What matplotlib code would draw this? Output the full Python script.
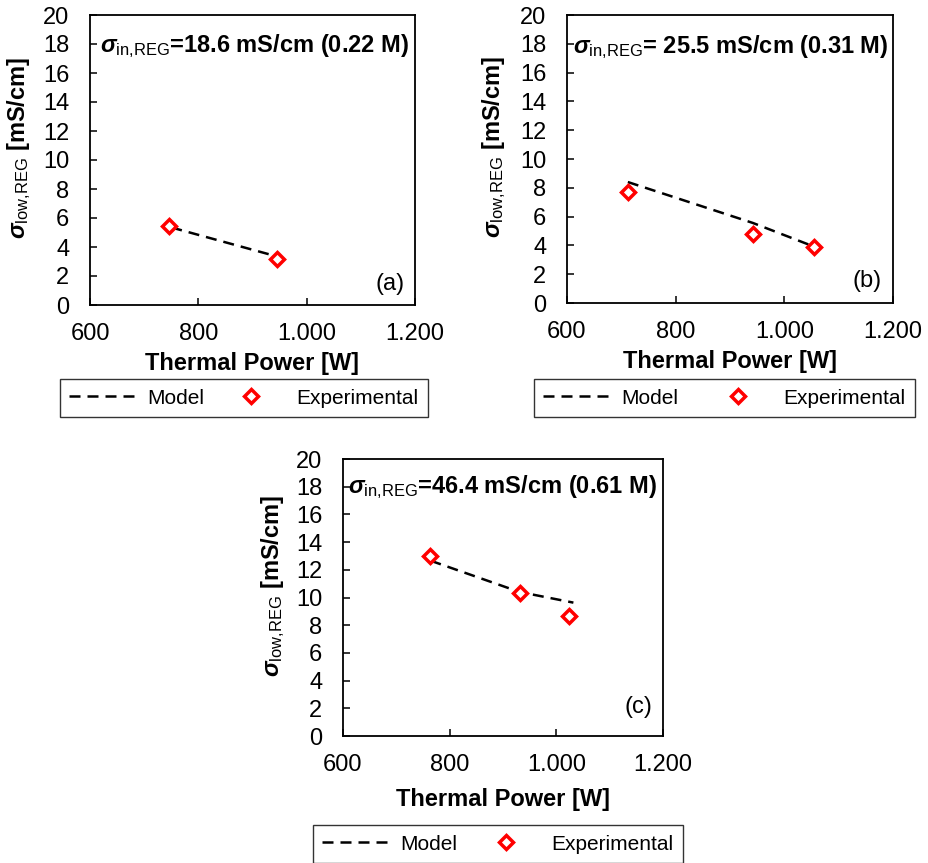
import matplotlib
matplotlib.use("Agg")
import matplotlib.pyplot as plt

plt.rcParams['font.family'] = ['Liberation Sans', 'DejaVu Sans']
plt.rcParams['mathtext.fontset'] = 'custom'
plt.rcParams['mathtext.it'] = 'Liberation Sans:italic:bold'
plt.rcParams['mathtext.rm'] = 'Liberation Sans:bold'
plt.rcParams['mathtext.sf'] = 'Liberation Sans'
plt.rcParams['mathtext.bf'] = 'Liberation Sans:bold'

# ---- data ----
a_model_x = [750, 945]
a_model_y = [5.35, 3.35]
a_exp_x = [746, 946]
a_exp_y = [5.45, 3.2]

b_model_x = [712, 942, 1053]
b_model_y = [8.4, 5.56, 3.94]
b_exp_x = [713, 942, 1054]
b_exp_y = [7.74, 4.82, 3.89]

c_model_x = [764, 931, 1032]
c_model_y = [12.66, 10.4, 9.63]
c_exp_x = [764, 931, 1024]
c_exp_y = [12.97, 10.35, 8.66]

x_ticks = [600, 800, 1000, 1200]
x_tick_labels = ['600', '800', '1.000', '1.200']
y_ticks = [0, 2, 4, 6, 8, 10, 12, 14, 16, 18, 20]

annotations = [r'$\sigma_{\mathsf{in{,}REG}}$=18.6 mS/cm (0.22 M)',
               r'$\sigma_{\mathsf{in{,}REG}}$= 25.5 mS/cm (0.31 M)',
               r'$\sigma_{\mathsf{in{,}REG}}$=46.4 mS/cm (0.61 M)']
panel_labels = ['(a)', '(b)', '(c)']
series_names = ['Model', 'Experimental']
xlabel = 'Thermal Power [W]'
ylabel = r'$\sigma_{\mathsf{low{,}REG}}$ [mS/cm]'

W, H = 929, 863
fig = plt.figure(figsize=(W / 100, H / 100), dpi=100)


def rect(l, r, t, b):
    return [l / W, (H - b) / H, (r - l) / W, (b - t) / H]


axes_rects = [rect(90, 415, 15, 305), rect(567, 893, 15, 303), rect(343, 663, 459, 736)]
legend_boxes = [(60, 428, 381, 415), (534, 915, 380, 416), (313, 683, 826, 862)]
ann_pos = [(0.03, 0.873), (0.018, 0.868), (0.016, 0.878)]
lab_pos = [(0.969, 0.052), (0.966, 0.056), (0.966, 0.083)]
ylab_x = [-0.175, -0.181, -0.175]
xlab_y = [-0.162, -0.163, -0.188]

data = [(a_model_x, a_model_y, a_exp_x, a_exp_y),
        (b_model_x, b_model_y, b_exp_x, b_exp_y),
        (c_model_x, c_model_y, c_exp_x, c_exp_y)]

for i in range(3):
    ax = fig.add_axes(axes_rects[i])
    mx, my, ex, ey = data[i]
    line, = ax.plot(mx, my, color='black', lw=1.8, dashes=(4.4, 2.8), zorder=2)
    pts, = ax.plot(ex, ey, ls='none', marker='D', markersize=7.2,
                   markerfacecolor='white', markeredgecolor='#ff0000',
                   markeredgewidth=2.5, zorder=3)
    ax.set_xlim(600, 1200)
    ax.set_ylim(0, 20)
    ax.set_xticks(x_ticks)
    ax.set_xticklabels(x_tick_labels)
    ax.set_yticks(y_ticks)
    ax.tick_params(direction='in', length=5, width=1.1, labelsize=17, color='black')
    ax.tick_params(axis='y', pad=15)
    ax.tick_params(axis='x', pad=13)
    for s in ax.spines.values():
        s.set_linewidth(1.3)
        s.set_color('black')
    ax.set_xlabel(xlabel, fontsize=17, fontweight='bold')
    ax.xaxis.set_label_coords(0.5, xlab_y[i])
    ax.set_ylabel(ylabel, fontsize=17, fontweight='bold')
    ax.yaxis.set_label_coords(ylab_x[i], 0.54)
    ax.text(ann_pos[i][0], ann_pos[i][1], annotations[i], transform=ax.transAxes,
            fontsize=17, fontweight='bold', ha='left', va='baseline')
    ax.text(lab_pos[i][0], lab_pos[i][1], panel_labels[i], transform=ax.transAxes,
            fontsize=17, ha='right', va='baseline')

    l, r, t, b = legend_boxes[i]
    leg = fig.legend([line, pts], series_names, ncol=2, loc='center',
                     bbox_to_anchor=(l / W, (H - b) / H, (r - l) / W, (b - t) / H),
                     mode='expand', borderaxespad=0, fontsize=15, frameon=True,
                     fancybox=False, edgecolor='black', handlelength=3.1,
                     handletextpad=0.65, borderpad=0.45)
    leg.get_frame().set_linewidth(1.0)

fig.savefig('out.png', dpi=100)
